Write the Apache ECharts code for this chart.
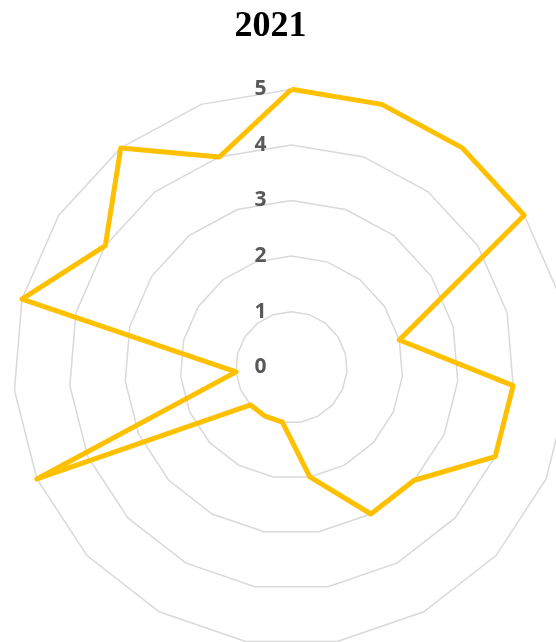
<!DOCTYPE html>
<html>
<head>
<meta charset="utf-8">
<script src="https://cdn.jsdelivr.net/npm/echarts@6/dist/echarts.min.js"></script>
<style>
html,body{margin:0;padding:0;background:#fff;}
#chart{width:556px;height:642px;}
</style>
</head>
<body>
<div id="chart"></div>
<script>
// Categories in clockwise order starting at the top (as in the reference)
const categories = ['1','2','3','4','5','6','7','8','9','10','11','12','13','14','15','16','17','18','19'];
const values2021 = [5,5,5,5,2,4,4,3,3,2,1,1,1,5,1,5,4,5,4];
const radialTicks = [0,1,2,3,4,5];
const titleText = '2021';

// ECharts lays radar indicators counter-clockwise; reorder to get clockwise layout
const order = categories.map((_, j) => (categories.length - j) % categories.length);
const catsCCW = order.map(k => categories[k]);
const valsCCW = order.map(k => values2021[k]);
const maxVal = radialTicks[radialTicks.length - 1];

const chart = echarts.init(document.getElementById('chart'), null, {renderer: 'canvas'});
chart.setOption({
  backgroundColor: '#ffffff',
  animation: false,
  title: {
    text: titleText,
    left: 265.5,
    top: 4,
    textAlign: 'center',
    textStyle: {fontFamily: 'Liberation Serif', fontWeight: 'bold', fontSize: 36, color: '#000'}
  },
  radar: {
    center: [291.5, 367.3],
    radius: 278,
    startAngle: 90,
    shape: 'polygon',
    splitNumber: radialTicks.length - 1,
    indicator: catsCCW.map((c, i) => {
      const o = {name: c, min: radialTicks[0], max: maxVal};
      if (i === 0) {
        o.axisLabel = {show: true};
      }
      return o;
    }),
    axisName: {show: false},
    splitLine: {lineStyle: {color: '#d9d9d9', width: 1.5}},
    splitArea: {show: false},
    axisLine: {show: false},
    axisTick: {show: false},
    axisLabel: {
      show: false,
      margin: 25,
      color: '#595959',
      fontFamily: 'Open Sans',
      fontWeight: 'bold',
      fontSize: 21,
      formatter: v => String(v)
    }
  },
  series: [{
    type: 'radar',
    symbol: 'none',
    lineStyle: {color: '#FFC000', width: 5, join: 'round'},
    data: [{value: valsCCW, name: titleText}]
  }]
});
</script>
</body>
</html>
